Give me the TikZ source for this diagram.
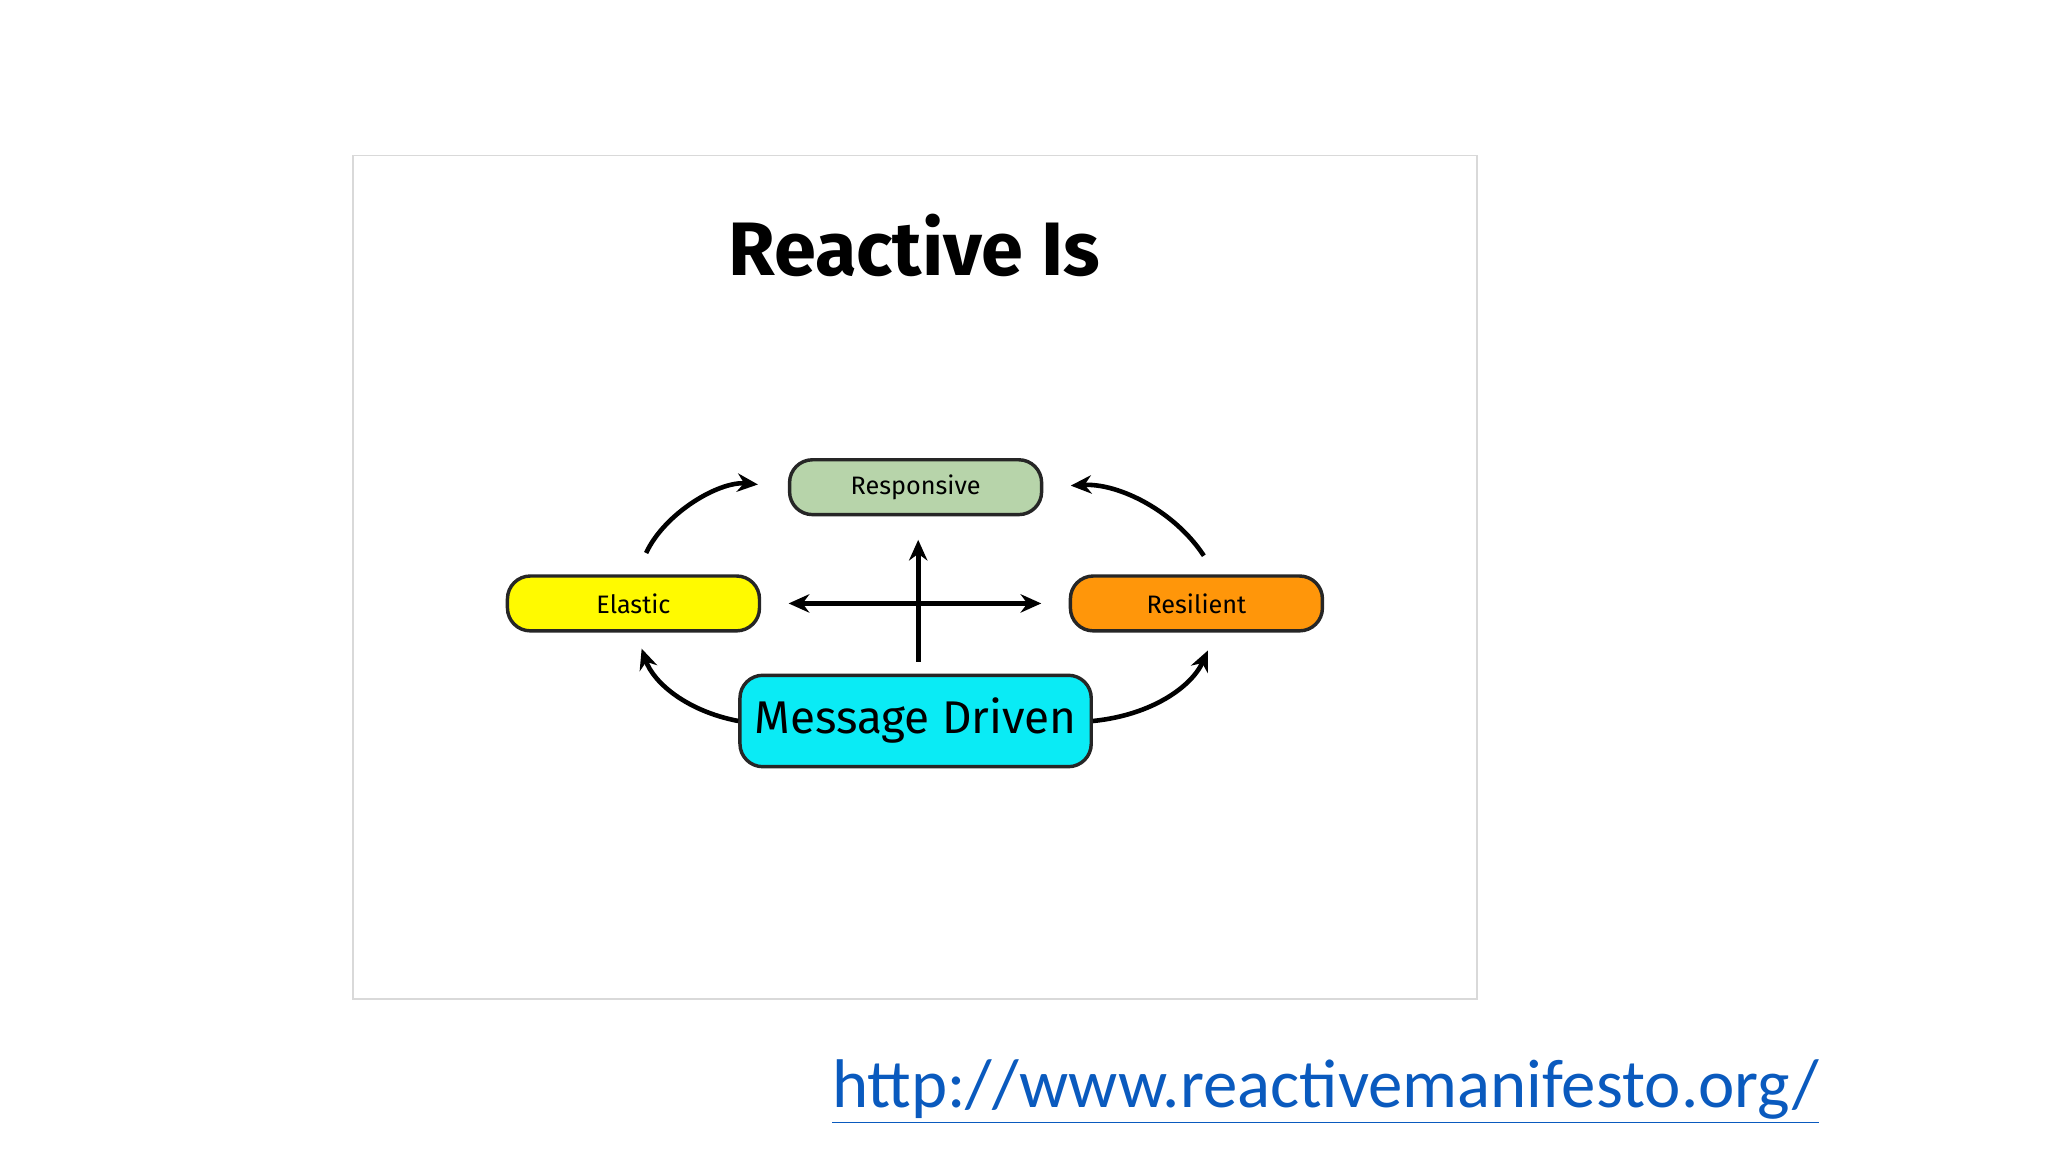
\documentclass[tikz,border=0pt]{standalone}
\usepackage{fontspec}
\setmainfont{Fira Sans}
\newfontfamily\urlfont{Carlito}
\usetikzlibrary{arrows.meta, positioning}
\definecolor{rspgreen}{RGB}{183,212,170}
\definecolor{elyellow}{RGB}{255,250,0}
\definecolor{rsorange}{RGB}{255,150,10}
\definecolor{mdcyan}{RGB}{10,235,245}
\definecolor{urlblue}{RGB}{10,90,190}
\tikzset{
  trait/.style={draw=black!85, line width=1.5pt, rounded corners=0.35cm,
    minimum width=3.86cm, minimum height=0.84cm, font=\fontsize{11}{13}\selectfont},
  link/.style={-{Stealth[length=9pt,width=8pt]}, line width=2pt}
}
\begin{document}
\begin{tikzpicture}[x=0.02cm, y=-0.02cm]
  \useasboundingbox (0,0) rectangle (1568,882);
  % slide frame
  \draw[black!15, line width=0.8pt] (270,119) rectangle (1131,765);
  \node[font=\bfseries\fontsize{33}{38}\selectfont] (title) at (700,188) {Reactive Is};
  % traits
  \node[trait, fill=rspgreen] (rsp) at (701,373) {Responsive};
  \node[trait, fill=elyellow] (el) at (485,462) {Elastic};
  \node[trait, fill=rsorange] (rs) at (916,462) {Resilient};
  \node[trait, fill=mdcyan, minimum width=5.38cm, minimum height=1.4cm,
    font=\fontsize{20}{24}\selectfont] (md) at (701,552) {Message Driven};
  % connectors
  \draw[link, {Stealth[length=9pt,width=8pt]}-{Stealth[length=9pt,width=8pt]},
    shorten <=0.42cm, shorten >=0.42cm] (el.east) -- (rs.west);
  \draw[link, shorten <=0.18cm, shorten >=0.36cm] ([xshift=0.04cm]md.north) -- ([xshift=0.04cm]rsp.south);
  \draw[link, shorten <=0.36cm, shorten >=0.46cm] ([xshift=0.04cm]el.north) to[bend left=35] (rsp.west);
  \draw[link, shorten <=0.34cm, shorten >=0.42cm] ([xshift=0.3cm]rs.north) to[bend right=30] (rsp.east);
  \draw[link, shorten >=0.26cm] (md.west) to[bend left=30] ([xshift=0.04cm]el.south);
  \draw[link, shorten >=0.3cm] (md.east) to[bend right=30] ([xshift=0.3cm]rs.south);
  % link
  \node[urlblue, font=\urlfont\fontsize{30}{34}\selectfont] (url) at (1015,836)
    {\underline{http://www.reactivemanifesto.org/}};
\end{tikzpicture}
\end{document}
